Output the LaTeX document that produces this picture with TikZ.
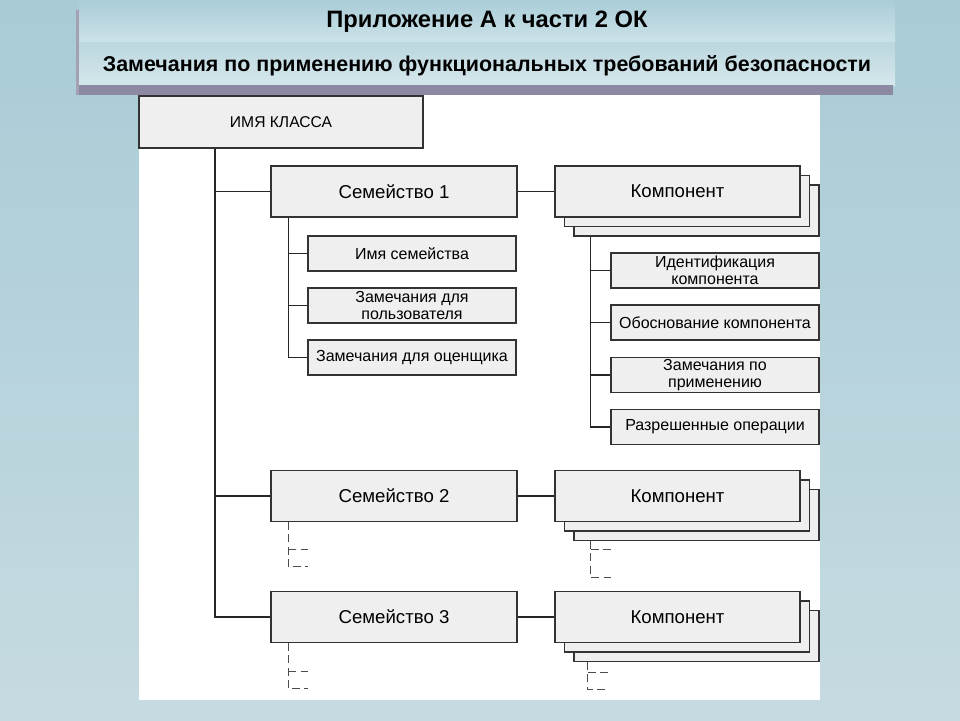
\documentclass[tikz,border=0pt]{standalone}
\usepackage{fontspec}
\setmainfont{Liberation Sans}
\usepackage{xcolor}
\usetikzlibrary{positioning,calc}
\definecolor{slidetop}{HTML}{A8CBD6}
\definecolor{slidebot}{HTML}{C6DBE1}
\definecolor{bandatop}{HTML}{A9CDD8}
\definecolor{bandabot}{HTML}{CCE2E8}
\definecolor{bandbtop}{HTML}{BCD7DF}
\definecolor{bandbbot}{HTML}{D4E7EB}
\definecolor{barshade}{HTML}{8D89A3}
\definecolor{boxfill}{HTML}{EFEFEF}
\definecolor{boxline}{HTML}{333333}

\begin{document}
\begin{tikzpicture}[x=0.02cm, y=-0.02cm,
  box/.style={draw=boxline, fill=boxfill, line width=0.75pt, inner sep=1pt, align=center},
  classbox/.style={box, minimum width=5.68cm, minimum height=1.04cm, font=\fontsize{8.9}{10}\selectfont},
  fambox/.style={box, minimum width=4.92cm, minimum height=1.02cm, font=\fontsize{10.6}{12}\selectfont},
  compbox/.style={fambox, minimum width=4.9cm},
  itembox/.style={box, minimum width=4.16cm, minimum height=0.7cm, font=\fontsize{9.1}{9.8}\selectfont},
  link/.style={line width=0.7pt, draw=black!85},
  stub/.style={line width=0.7pt, draw=black!70, dash pattern=on 4.5pt off 2.5pt}]
  \useasboundingbox (0,0) rectangle (960,720);
  \fill[top color=slidetop, bottom color=slidebot] (0,0) rectangle (960,720);
  \fill[barshade!80] (76,10) rectangle (79,95);
  \fill[top color=bandatop, bottom color=bandabot] (79,0) rectangle (895,42);
  \fill[top color=bandbtop, bottom color=bandbbot] (79,42) rectangle (895,85);
  \fill[barshade] (79,85) rectangle (893,95);
  \fill[white] (139,95) rectangle (820,700);
  \node[font=\bfseries\fontsize{13.5}{15}\selectfont] (title) at (487,22) {Приложение А к части 2 ОК};
  \node[font=\bfseries\fontsize{12.2}{14}\selectfont] (subtitle) at (487,66) {Замечания по применению функциональных требований безопасности};

  \node[classbox] (cls) at (281,122) {ИМЯ КЛАССА};
  \node[fambox] (fam1) at (394,191.5) {Семейство 1};
  \node[fambox] (fam2) at (394,496) {Семейство 2};
  \node[fambox] (fam3) at (394,617) {Семейство 3};
  \foreach \y/\n in {191.5/1, 496/2, 617/3} {
    \node[compbox] (compback\n) at (696.5,\y+19) {};
    \node[compbox] (compmid\n) at (687,\y+9.5) {};
    \node[compbox] (comp\n) at (677.5,\y) {Компонент};
    \draw[link] (fam\n) -- (comp\n);
  }

  \node[itembox] (famname) at (412,253.5) {Имя семейства};
  \node[itembox] (usernotes) at (412,305.5) {Замечания для\\пользователя};
  \node[itembox] (evalnotes) at (412,357.5) {Замечания для оценщика};
  \node[itembox] (compid) at (715,270.5) {Идентификация\\компонента};
  \node[itembox] (comprat) at (715,322.5) {Обоснование компонента};
  \node[itembox] (compnotes) at (715,375) {Замечания по\\применению};
  \node[itembox] (compops) at (715,427) {Разрешенные операции};

  \coordinate (spine) at ([xshift=-1.32cm]cls.south);
  \foreach \f in {fam1,fam2,fam3} \draw[link] (spine) |- (\f.west);
  \coordinate (famspine) at ([xshift=0.36cm]fam1.south west);
  \foreach \i in {famname,usernotes,evalnotes} \draw[link] (famspine) |- (\i.west);
  \coordinate (compspine) at ([xshift=0.35cm]compback1.south west);
  \foreach \i in {compid,comprat,compnotes,compops} \draw[link] (compspine) |- (\i.west);

  \foreach \n/\dx/\a/\b in {fam2/0.36/27.5/44.5, fam3/0.36/28.5/45.5, compback2/0.35/8.5/36.5, compback3/0.29/10.5/27.5} {
    \draw[stub] ([xshift=\dx cm]\n.south west) coordinate (st) -- ++(0,\b) -- ++(20,0);
    \draw[stub] ([yshift=-\a*0.02cm]st) -- ++(20,0);
  }
\end{tikzpicture}
\end{document}
